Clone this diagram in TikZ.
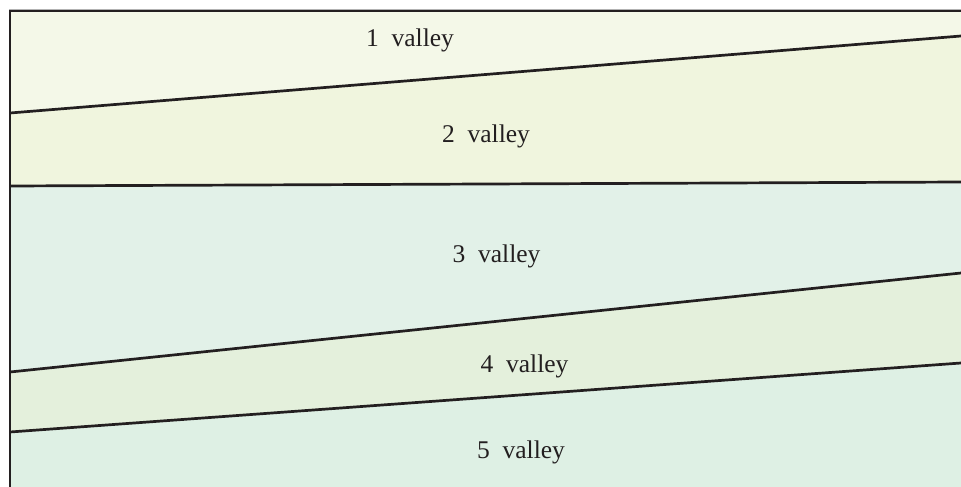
\documentclass[tikz,border=0pt]{standalone}
\usepackage{fontspec}
\setmainfont{Liberation Serif}
\begin{document}
\begin{tikzpicture}[x=1pt,y=-1pt,
  layerline/.style={line width=2.7pt,draw={rgb,255:red,35;green,31;blue,32},line cap=butt},
  lbl/.style={anchor=base,inner sep=0pt,text={rgb,255:red,35;green,31;blue,32},font=\fontsize{25.5}{30}\selectfont}]
\definecolor{cA}{RGB}{244,248,232}
\definecolor{cB}{RGB}{240,245,222}
\definecolor{cC}{RGB}{226,241,232}
\definecolor{cD}{RGB}{228,240,220}
\definecolor{cE}{RGB}{222,240,228}
\useasboundingbox (0,0) rectangle (961,487);
% coordinates
\coordinate (tl) at (10,11);
\coordinate (tr) at (961,11);
\coordinate (bl) at (10,487);
\coordinate (br) at (961,487);
\coordinate (l1) at (10,113);  \coordinate (r1) at (961,36);
\coordinate (l2) at (10,186);  \coordinate (r2) at (961,182);
\coordinate (l3) at (10,372);  \coordinate (r3) at (961,273);
\coordinate (l4) at (10,432);  \coordinate (r4) at (961,363);
% fills
\fill[cA] (tl) -- (tr) -- (r1) -- (l1) -- cycle;
\fill[cB] (l1) -- (r1) -- (r2) -- (l2) -- cycle;
\fill[cC] (l2) -- (r2) -- (r3) -- (l3) -- cycle;
\fill[cD] (l3) -- (r3) -- (r4) -- (l4) -- cycle;
\fill[cE] (l4) -- (r4) -- (br) -- (bl) -- cycle;
% divider lines
\draw[layerline] (l1) -- (r1);
\draw[layerline] (l2) -- (r2);
\draw[layerline] (l3) -- (r3);
\draw[layerline] (l4) -- (r4);
% frame
\draw[black!30,line width=0.8pt] (9,9.2) -- (961,9.2);
\draw[layerline,line cap=rect] (bl) -- (tl) -- (tr);
% labels
\node[lbl] (v1) at (410,47) {1~~valley};
\node[lbl] (v2) at (486,142) {2~~valley};
\node[lbl] (v3) at (496.5,262) {3~~valley};
\node[lbl] (v4) at (524.5,372) {4~~valley};
\node[lbl] (v5) at (521,458) {5~~valley};
\end{tikzpicture}
\end{document}
